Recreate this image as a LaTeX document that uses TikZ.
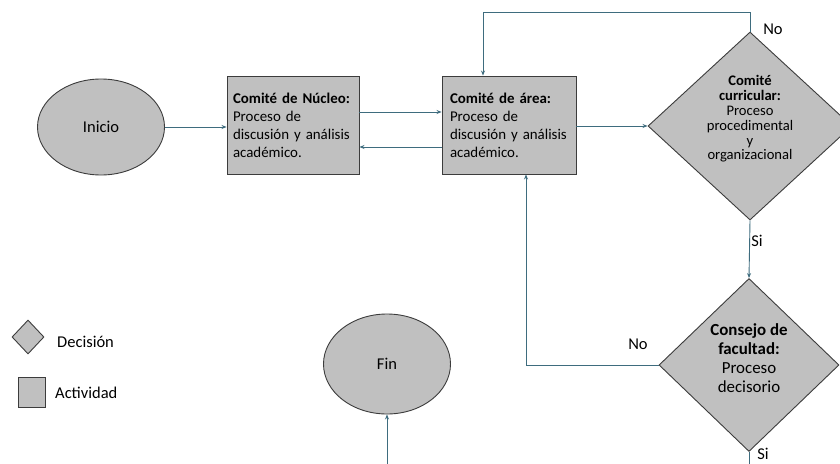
\documentclass[tikz,border=0pt]{standalone}
\usepackage{fontspec}
\setmainfont{Carlito}
\usetikzlibrary{shapes.geometric,arrows.meta}
\definecolor{shapefill}{RGB}{192,192,192}
\definecolor{shapeline}{RGB}{60,60,60}
\definecolor{conn}{RGB}{62,108,126}
\tikzset{
  activity/.style={draw=shapeline,fill=shapefill,line width=0.9pt,rectangle,align=left,
    font=\fontsize{14.9}{18}\selectfont},
  decision/.style={draw=shapeline,fill=shapefill,line width=0.9pt,diamond,inner sep=0pt},
  dectext/.style={align=center,inner sep=0pt},
  terminal/.style={draw=shapeline,fill=shapefill,line width=0.9pt,ellipse,inner sep=0pt,
    font=\fontsize{16.5}{19}\selectfont},
  conn/.style={draw=conn,line width=0.9pt,-{Stealth[length=5pt,width=4pt]}},
  plainconn/.style={draw=conn,line width=0.9pt},
  lbl/.style={font=\fontsize{16.5}{19}\selectfont,inner sep=0pt},
}
\begin{document}
\begin{tikzpicture}[x=1pt,y=-1pt]
\useasboundingbox (0,0) rectangle (840,463);
\clip (0,0) rectangle (840,463);
\fill[white] (0,0) rectangle (840,463);

\node[terminal,minimum width=127pt,minimum height=96pt] (inicio) at (101,127) {Inicio};
\node[activity,text width=120pt,inner xsep=6pt,minimum height=98pt] (nucleo) at (293,125)
  {\textbf{Comité de Núcleo:}\\Proceso de\\discusión y análisis\\académico.};
\node[activity,text width=118pt,inner xsep=8pt,minimum height=98pt] (area) at (509,125)
  {\textbf{Comité de área:}\\Proceso de\\discusión y análisis\\académico.};
\node[decision,minimum width=204pt,minimum height=188pt] (curr) at (750,126) {};
\node[dectext,font=\fontsize{14.6}{14.8}\selectfont] (currtxt) at (750,119)
  {\textbf{Comité}\\\textbf{curricular:}\\Proceso\\procedimental\\y\\organizacional};
\node[decision,minimum width=180pt,minimum height=173pt] (cons) at (749,365) {};
\node[dectext,font=\fontsize{16.9}{19.2}\selectfont] (constxt) at (749,358)
  {\textbf{Consejo de}\\\textbf{facultad:}\\Proceso\\decisorio};
\node[terminal,minimum width=127pt,minimum height=100pt] (fin) at (387,364) {Fin};

\coordinate (consout) at (749,480);
\coordinate (finin) at (387,480);

\draw[conn] (inicio.east) -- (inicio.east -| nucleo.west);
\draw[conn] ([yshift=13pt]nucleo.east) -- ([yshift=13pt]nucleo.east -| area.west);
\draw[conn] ([yshift=-22pt]area.west) -- ([yshift=-22pt]area.west -| nucleo.east);
\draw[conn] (curr.west -| area.east) -- (curr.west);
\draw[conn] (curr.north) -- ++(0,-19) -| ([xshift=-26pt]area.north);
\draw[conn] (curr.south) -- (cons.north);
\draw[conn] (cons.west) -| ([xshift=17pt]area.south);
\draw[plainconn] (cons.south) -- (consout);
\draw[conn] (finin) -- (fin.south);

\node[lbl] (no1) at (773,29) {No};
\node[lbl] (si1) at (757,241) {Si};
\node[lbl] (no2) at (638,344) {No};
\node[lbl] (si2) at (763,454) {Si};

\node[decision,minimum width=32pt,minimum height=34pt] (legdec) at (28,337) {};
\node[lbl,anchor=west] (legdectxt) at (57,342) {Decisión};
\node[draw=shapeline,fill=shapefill,line width=0.9pt,minimum width=27pt,minimum height=30pt,inner sep=0pt] (legact) at (31.5,392) {};
\node[lbl,anchor=west] (legacttxt) at (55,393) {Actividad};
\end{tikzpicture}
\end{document}
